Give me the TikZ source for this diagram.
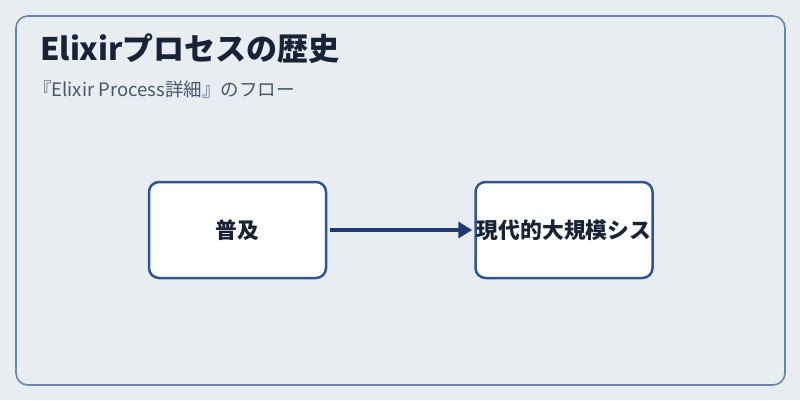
\documentclass[tikz,border=0pt]{standalone}
\usepackage{fontspec}
\setmainfont{Noto Sans CJK JP}
\usetikzlibrary{positioning, arrows.meta}
\definecolor{bgcolor}{HTML}{E8EDF2}
\definecolor{framecolor}{HTML}{6B84B0}
\definecolor{boxblue}{HTML}{2F5597}
\definecolor{arrownavy}{HTML}{1F3A6E}
\definecolor{titleink}{HTML}{1A2236}
\definecolor{subink}{HTML}{4A5568}

\begin{document}
\begin{tikzpicture}[
        x=1pt, y=-1pt,
        stage/.style={rectangle, draw=boxblue, fill=white, line width=2.5pt,
                      minimum width=177pt, minimum height=96pt,
                      rounded corners=10pt, align=center, inner sep=0pt,
                      font=\fontsize{21.8}{26}\selectfont\bfseries, text=titleink},
        flow/.style={-{Triangle[length=14pt, width=16pt]}, line width=4pt, arrownavy},
    ]
    % ===== Canvas and outer frame =====
    \fill[bgcolor] (0,0) rectangle (800,400);
    \useasboundingbox (0,0) rectangle (800,400);
    \draw[framecolor, line width=1.6pt, rounded corners=12pt] (16,16) rectangle (785,385);

    % ===== Title block =====
    \node[anchor=base west, inner sep=0pt, text=titleink,
          font=\fontsize{31}{36}\selectfont\bfseries] (title) at (40,60)
        {Elixirプロセスの歴史};
    \node[anchor=base west, inner sep=0pt, text=subink,
          font=\fontsize{18.5}{22}\selectfont] (subtitle) at (33,96)
        {『Elixir Process詳細』のフロー};

    % ===== Flow =====
    \node[stage] (pop) at (237.5,230) {普及};
    \node[stage, right=147pt of pop] (modern) {現代的大規模シス};

    \draw[flow] ([xshift=3pt]pop.east) -- ([xshift=-2pt]modern.west);
\end{tikzpicture}
\end{document}
